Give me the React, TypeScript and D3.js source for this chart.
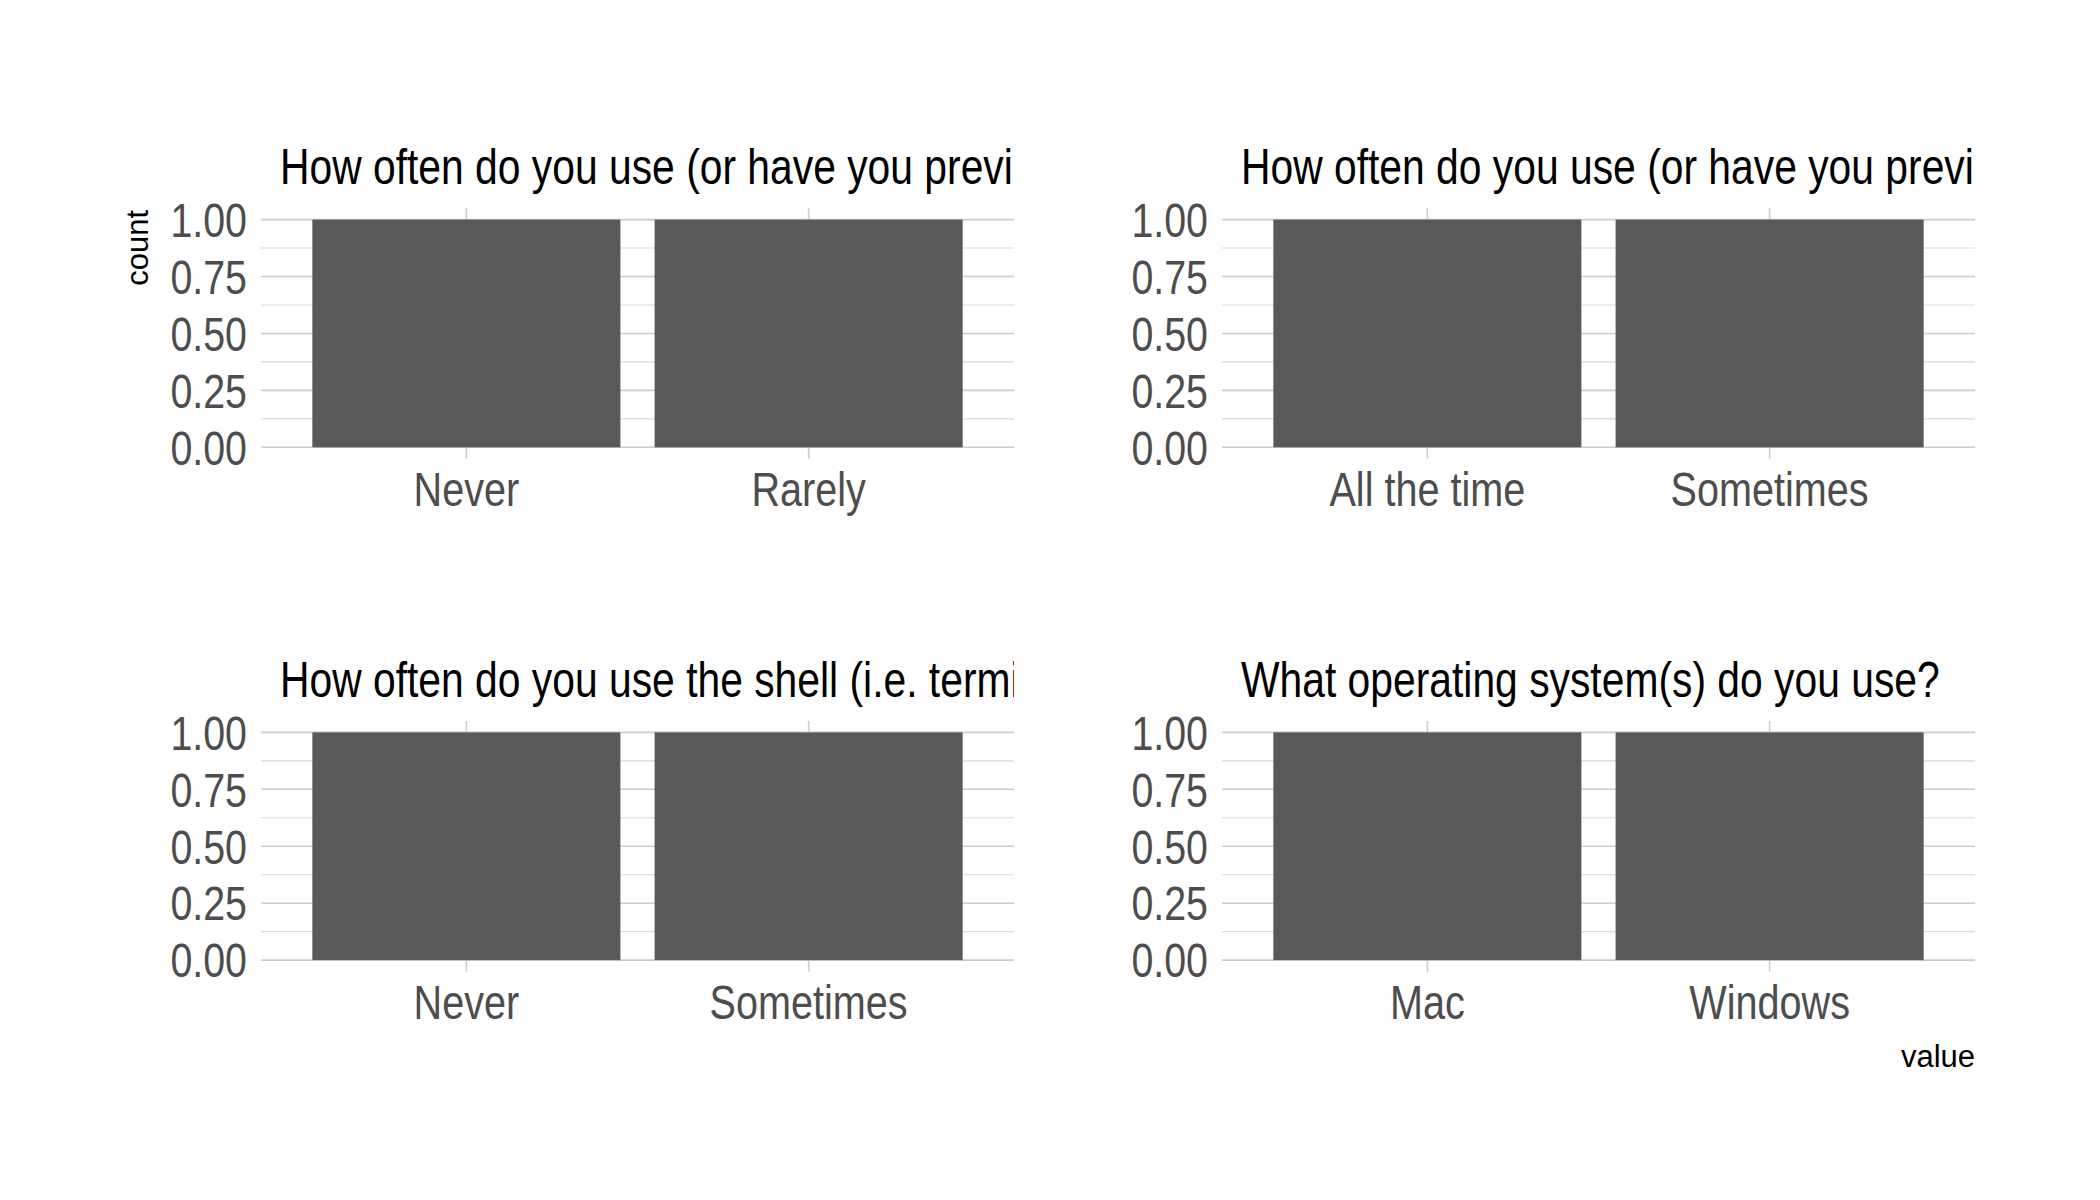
import React from "react";
import * as d3 from "d3";

const panelTitles = [
  "How often do you use (or have you previ",
  "How often do you use (or have you previ",
  "How often do you use the shell (i.e. termi",
  "What operating system(s) do you use?",
];
const panelCategories = [
  ["Never", "Rarely"],
  ["All the time", "Sometimes"],
  ["Never", "Sometimes"],
  ["Mac", "Windows"],
];
const panelCounts = [
  [1, 1],
  [1, 1],
  [1, 1],
  [1, 1],
];
const yTicks = [0, 0.25, 0.5, 0.75, 1];
const yMinorTicks = [0.125, 0.375, 0.625, 0.875];
const xAxisTitle = "value";
const yAxisTitle = "count";

const W = 2100;
const H = 1200;
const colLeft = [261, 1222];
const panelW = 753;
const rowTop = [208.2, 721];
const panelH = 250.5;

const REG = "'Liberation Sans', Arial, sans-serif";
const NARROW_SCALE = 0.82;

function NText({
  x,
  y,
  size,
  anchor,
  fill,
  dy,
  children,
}: {
  x: number;
  y: number;
  size: number;
  anchor?: string;
  fill: string;
  dy?: string;
  children: React.ReactNode;
}) {
  return (
    <text
      transform={`translate(${x},${y}) scale(${NARROW_SCALE},1)`}
      textAnchor={anchor || "start"}
      fontFamily={REG}
      fontSize={size}
      fill={fill}
      dy={dy}
    >
      {children}
    </text>
  );
}

function Panel({ idx }: { idx: number }) {
  const col = idx % 2;
  const row = Math.floor(idx / 2);
  const x0 = colLeft[col];
  const y0 = rowTop[row];
  const cats = panelCategories[idx];
  const vals = panelCounts[idx];
  const x = d3
    .scaleBand<string>()
    .domain(cats)
    .range([x0, x0 + panelW])
    .paddingInner(0.1)
    .paddingOuter(0.15);
  const y = d3.scaleLinear().domain([-0.05, 1.05]).range([y0 + panelH, y0]);
  const fmt = d3.format(".2f");
  const clipId = `clip-title-${idx}`;
  return (
    <g>
      <defs>
        <clipPath id={clipId}>
          <rect x={x0} y={y0 - 90} width={panelW} height={90} />
        </clipPath>
      </defs>
      {yMinorTicks.map((t) => (
        <line
          key={"mi" + t}
          x1={x0}
          x2={x0 + panelW}
          y1={y(t)}
          y2={y(t)}
          stroke="#d9d9d9"
          strokeWidth={1.1}
        />
      ))}
      {yTicks.map((t) => (
        <line
          key={"ma" + t}
          x1={x0}
          x2={x0 + panelW}
          y1={y(t)}
          y2={y(t)}
          stroke="#cccccc"
          strokeWidth={1.6}
        />
      ))}
      {cats.map((c) => (
        <line
          key={"vx" + c}
          x1={x(c)! + x.bandwidth() / 2}
          x2={x(c)! + x.bandwidth() / 2}
          y1={y0}
          y2={y0 + panelH}
          stroke="#cccccc"
          strokeWidth={1.6}
        />
      ))}
      {cats.map((c, i) => (
        <rect
          key={"b" + c}
          x={x(c)!}
          width={x.bandwidth()}
          y={y(vals[i])}
          height={y(0) - y(vals[i])}
          fill="#595959"
        />
      ))}
      {yTicks.map((t) => (
        <NText
          key={"yl" + t}
          x={x0 - 14}
          y={y(t)}
          dy="0.36em"
          anchor="end"
          size={48}
          fill="#4d4d4d"
        >
          {fmt(t)}
        </NText>
      ))}
      {cats.map((c) => (
        <NText
          key={"xl" + c}
          x={x(c)! + x.bandwidth() / 2}
          y={y0 + panelH + 47.5}
          anchor="middle"
          size={48.3}
          fill="#4d4d4d"
        >
          {c}
        </NText>
      ))}
      <g clipPath={`url(#${clipId})`}>
        <NText x={x0 + 19} y={y0 - 24.5} size={49.8} fill="#000000">
          {panelTitles[idx]}
        </NText>
      </g>
    </g>
  );
}

export default function App() {
  return (
    <svg
      width={W}
      height={H}
      style={{ display: "block", position: "absolute", left: 0, top: 0, background: "#ffffff" }}
    >
      <rect x={0} y={0} width={W} height={H} fill="#ffffff" />
      {panelTitles.map((_, i) => (
        <Panel key={i} idx={i} />
      ))}
      <text
        transform={`translate(148,210) rotate(-90)`}
        textAnchor="end"
        fontFamily={REG}
        fontSize={31}
        fill="#000000"
      >
        {yAxisTitle}
      </text>
      <text
        x={colLeft[1] + panelW}
        y={1067}
        textAnchor="end"
        fontFamily={REG}
        fontSize={31}
        fill="#000000"
      >
        {xAxisTitle}
      </text>
    </svg>
  );
}
